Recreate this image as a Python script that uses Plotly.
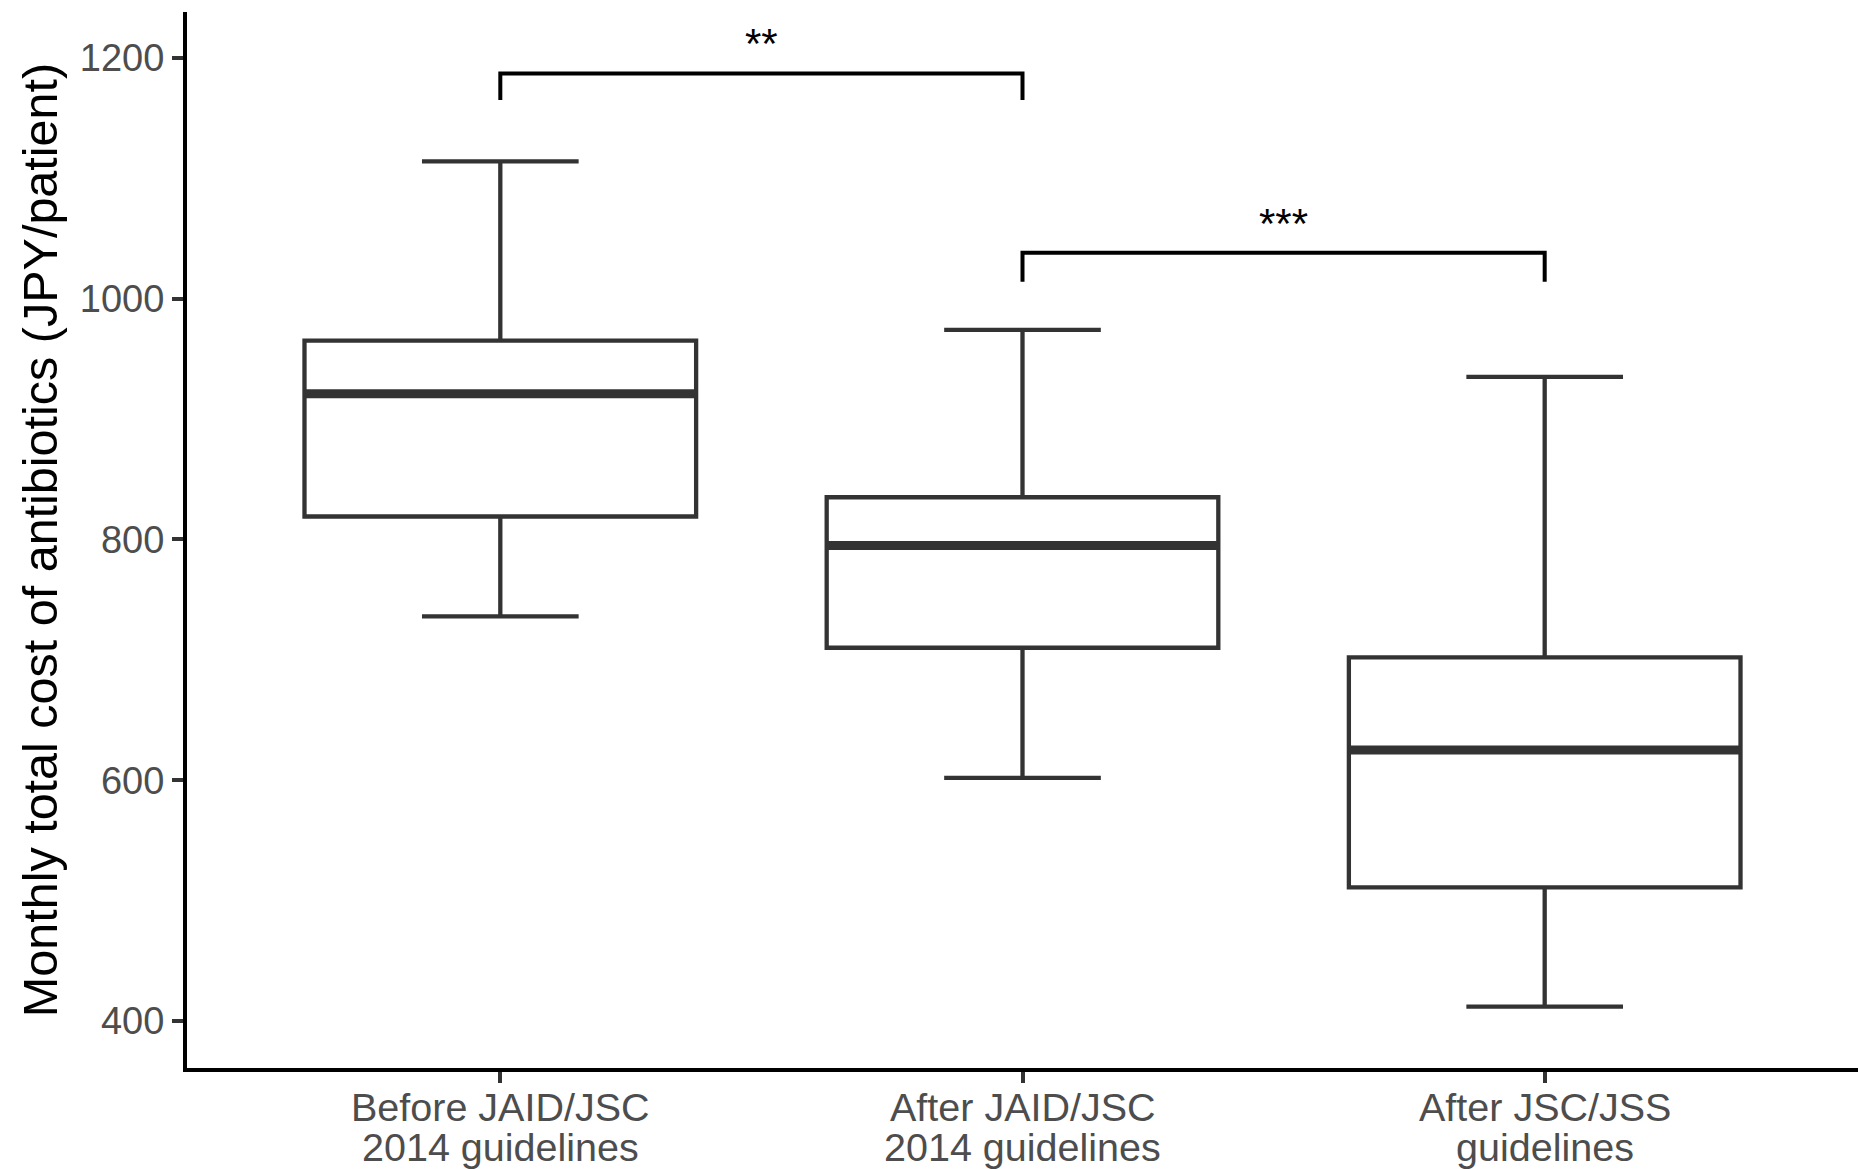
import plotly.graph_objects as go

cat_line1 = ["Before JAID/JSC", "After JAID/JSC", "After JSC/JSS"]
cat_line2 = ["2014 guidelines", "2014 guidelines", "guidelines"]
x_pos = [1, 2, 3]
lower_whisker = [736, 602, 412]
q1 = [819, 710, 511]
median = [921, 795, 625]
q3 = [965, 835, 702]
upper_whisker = [1114, 974, 935]

# significance brackets: (left group, right group, bracket height, tip height, label)
sig_left = [1, 2]
sig_right = [2, 3]
sig_y = [1187, 1038]
sig_tip = [1165, 1014]
sig_label = ["**", "***"]

BOX_W = 0.75
FONT = "Liberation Sans, Arial, sans-serif"

fig = go.Figure()
fig.add_trace(go.Box(
    x=x_pos, q1=q1, median=median, q3=q3,
    lowerfence=lower_whisker, upperfence=upper_whisker,
    width=BOX_W, whiskerwidth=0.4,
    fillcolor="white", line=dict(color="#333333", width=4.3),
    boxpoints=False, hoverinfo="skip", showlegend=False,
))

# thick median lines
mx, my = [], []
for xi, m in zip(x_pos, median):
    mx += [xi - BOX_W / 2, xi + BOX_W / 2, None]
    my += [m, m, None]
fig.add_trace(go.Scatter(x=mx, y=my, mode="lines",
                         line=dict(color="#333333", width=9),
                         hoverinfo="skip", showlegend=False))

# significance brackets
for a, b, yb, yt, lab in zip(sig_left, sig_right, sig_y, sig_tip, sig_label):
    fig.add_trace(go.Scatter(x=[a, a, b, b], y=[yt, yb, yb, yt], mode="lines",
                             line=dict(color="black", width=4),
                             hoverinfo="skip", showlegend=False))
    fig.add_annotation(x=(a + b) / 2, y=yb, text=lab, showarrow=False,
                       yanchor="bottom", yshift=4,
                       font=dict(family=FONT, size=42, color="black"))

# two-line category labels under the x axis
for xi, l1, l2 in zip(x_pos, cat_line1, cat_line2):
    for txt, dy in ((l1, -39), (l2, -79)):
        fig.add_annotation(x=xi, xref="x", y=0, yref="paper", text=txt,
                           showarrow=False, yanchor="middle", yshift=dy,
                           font=dict(family=FONT, size=39.5, color="#4D4D4D"))

fig.update_layout(
    width=1858, height=1169,
    margin=dict(l=187, r=0, t=12, b=101),
    plot_bgcolor="white", paper_bgcolor="white",
    font=dict(family=FONT),
    xaxis=dict(
        range=[0.4, 3.6], tickvals=x_pos, showticklabels=False,
        showline=True, linecolor="black", linewidth=4,
        ticks="outside", ticklen=11, tickwidth=4, tickcolor="#333333",
        showgrid=False, zeroline=False, automargin=False,
    ),
    yaxis=dict(
        range=[361, 1238], tickvals=[400, 600, 800, 1000, 1200],
        showline=True, linecolor="black", linewidth=4,
        ticks="outside", ticklen=11, tickwidth=4, tickcolor="#333333",
        tickfont=dict(family=FONT, size=38, color="#4D4D4D"),
        showgrid=False, zeroline=False, automargin=False,
        title=dict(text="Monthly total cost of antibiotics (JPY/patient)",
                   font=dict(family=FONT, size=48.5, color="black"), standoff=8),
    ),
)

fig.write_html("out.html")
